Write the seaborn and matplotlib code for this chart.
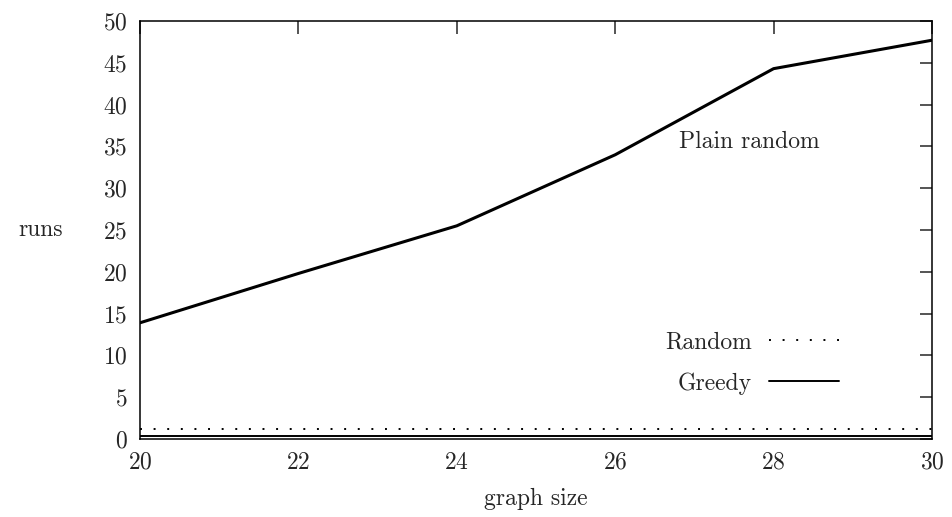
import pandas as pd
import seaborn as sns
import matplotlib.pyplot as plt

sns.set_style("white")
plt.rcParams['font.family'] = ['cmr10', 'DejaVu Serif']
plt.rcParams['axes.formatter.use_mathtext'] = True

# values
graph_size = [20, 22, 24, 26, 28, 30]
plain_random = [13.9, 19.8, 25.5, 34.0, 44.3, 47.7]
random_runs = [1.15, 1.15, 1.15, 1.15, 1.15, 1.15]
greedy_runs = [0.3, 0.3, 0.3, 0.3, 0.3, 0.3]

df = pd.DataFrame({
    'graph size': graph_size * 3,
    'runs': plain_random + random_runs + greedy_runs,
    'method': ['Plain random'] * 6 + ['Random'] * 6 + ['Greedy'] * 6,
})

f, ax = plt.subplots(figsize=(9.52, 5.17), dpi=100)
f.subplots_adjust(left=140 / 952, right=932 / 952, top=1 - 21 / 517, bottom=1 - 439 / 517)

sns.lineplot(data=df[df.method == 'Plain random'], x='graph size', y='runs',
             color='black', linewidth=2.2, ax=ax, legend=False)
sns.lineplot(data=df[df.method == 'Random'], x='graph size', y='runs',
             color='black', linewidth=1.4, linestyle=(0, (1, 6)), ax=ax, label='Random')
sns.lineplot(data=df[df.method == 'Greedy'], x='graph size', y='runs',
             color='black', linewidth=1.4, ax=ax, label='Greedy')

ax.set_xlim(20, 30)
ax.set_ylim(0, 50)
ax.set_xticks(range(20, 31, 2))
ax.set_yticks(range(0, 51, 5))
ax.tick_params(direction='in', length=9, width=1.1, top=True, right=True,
               labelsize=17, pad=9)
for s in ax.spines.values():
    s.set_linewidth(1.1)
    s.set_color('black')

ax.set_xlabel('graph size', fontsize=17, labelpad=10)
ax.set_ylabel('runs', fontsize=17, rotation=0, labelpad=45, va='center')
ax.text(26.8, 35.5, 'Plain random', fontsize=17, va='center', ha='left')

ax.legend(loc='lower right', bbox_to_anchor=(0.91, 0.055), frameon=False,
          markerfirst=False, fontsize=17, handlelength=3.0, labelspacing=0.8,
          handletextpad=0.7)

plt.savefig('out.png', dpi=100)
